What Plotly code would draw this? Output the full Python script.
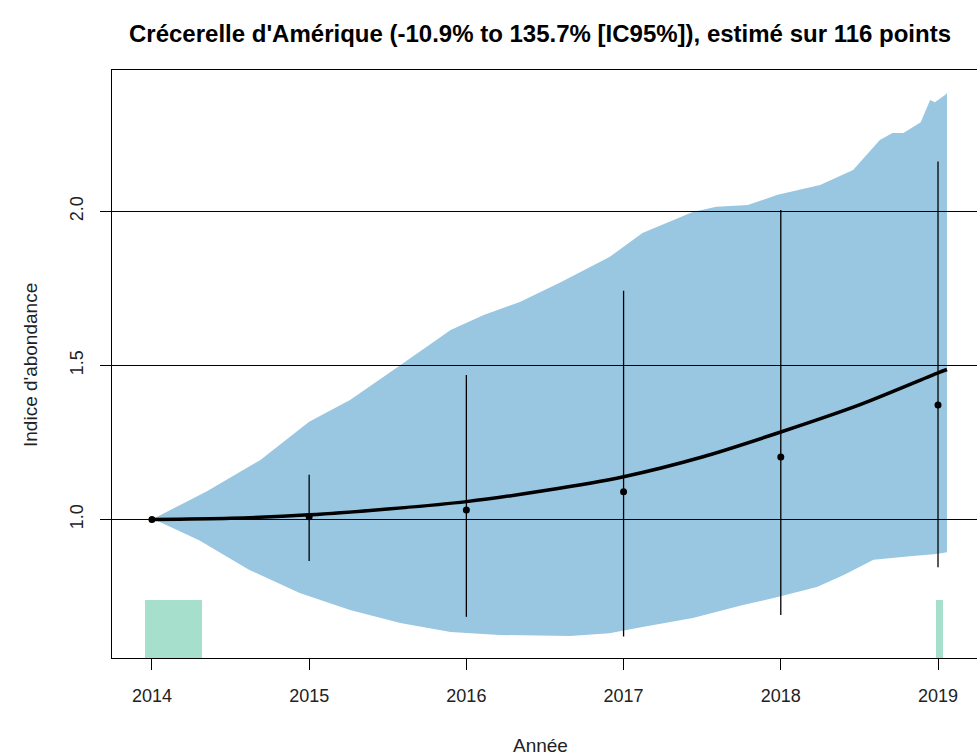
import plotly.graph_objects as go

# Confidence band (upper / lower envelopes)
band_upper_x = [2014.0, 2014.35, 2014.69, 2015.0, 2015.26, 2015.6, 2015.9, 2016.11, 2016.34,
                2016.6, 2016.91, 2017.12, 2017.44, 2017.59, 2017.79, 2017.98, 2018.25, 2018.46,
                2018.63, 2018.71, 2018.78, 2018.89, 2018.95, 2018.98, 2019.045, 2019.057]
band_upper_y = [1.0, 1.092, 1.193, 1.317, 1.388, 1.508, 1.615, 1.664, 1.706,
                1.770, 1.852, 1.930, 1.998, 2.015, 2.021, 2.054, 2.086, 2.135,
                2.232, 2.255, 2.255, 2.290, 2.362, 2.355, 2.378, 2.385]
band_lower_x = [2014.0, 2014.05, 2014.3, 2014.62, 2014.94, 2015.26, 2015.58, 2015.9, 2016.21,
                2016.66, 2016.91, 2017.12, 2017.44, 2017.76, 2017.98, 2018.23, 2018.4, 2018.59,
                2018.82, 2018.99, 2019.057]
band_lower_y = [1.0, 0.992, 0.933, 0.836, 0.761, 0.706, 0.664, 0.635, 0.625,
                0.622, 0.631, 0.651, 0.680, 0.722, 0.748, 0.781, 0.820, 0.869,
                0.881, 0.888, 0.894]

# Smoothed trend
trend_x = [2014.0, 2014.5, 2015.0, 2015.5, 2016.0, 2016.5, 2017.0, 2017.5, 2018.0, 2018.5, 2019.0, 2019.057]
trend_y = [1.0, 1.004, 1.015, 1.034, 1.058, 1.094, 1.139, 1.203, 1.284, 1.372, 1.476, 1.487]

# Yearly estimates with 95% intervals
years = [2014, 2015, 2016, 2017, 2018, 2019]
estimate = [1.0, 1.009, 1.031, 1.090, 1.203, 1.372]
ci_high = [1.0, 1.145, 1.469, 1.743, 2.005, 2.162]
ci_low = [1.0, 0.865, 0.684, 0.620, 0.690, 0.845]

# Sampling coverage blocks
cover_x0 = [2013.955, 2018.99]
cover_x1 = [2014.318, 2019.03]
cover_top = [0.739, 0.739]

gridlines_y = [1.0, 1.5, 2.0]
x_range = [2013.746, 2019.248]
y_range = [0.5503, 2.4594]

font = "Liberation Sans, Arial, sans-serif"
band_color = "#99c7e1"
cover_color = "#a6e0cd"

fig = go.Figure()

# coverage blocks as bars rising from the bottom of the axis
fig.add_trace(go.Bar(
    x=[(a + b) / 2 for a, b in zip(cover_x0, cover_x1)],
    width=[b - a for a, b in zip(cover_x0, cover_x1)],
    y=[t - y_range[0] for t in cover_top],
    base=y_range[0],
    marker=dict(color=cover_color, line=dict(width=0)),
    hoverinfo="skip", showlegend=False,
))

# confidence band polygon
fig.add_trace(go.Scatter(
    x=band_upper_x + band_lower_x[::-1],
    y=band_upper_y + band_lower_y[::-1],
    fill="toself", fillcolor=band_color, mode="none",
    hoverinfo="skip", showlegend=False,
))

# horizontal reference lines drawn over the band
for gy in gridlines_y:
    fig.add_trace(go.Scatter(
        x=x_range, y=[gy, gy], mode="lines",
        line=dict(color="black", width=1),
        hoverinfo="skip", showlegend=False, cliponaxis=True,
    ))

# yearly estimates with interval whiskers
fig.add_trace(go.Scatter(
    x=years, y=estimate, mode="markers",
    marker=dict(color="black", size=7),
    error_y=dict(type="data", symmetric=False,
                 array=[h - e for h, e in zip(ci_high, estimate)],
                 arrayminus=[e - l for e, l in zip(estimate, ci_low)],
                 color="black", thickness=1.3, width=0),
    showlegend=False,
))

# trend curve
fig.add_trace(go.Scatter(
    x=trend_x, y=trend_y, mode="lines",
    line=dict(color="black", width=3.5, shape="spline", smoothing=0.8),
    showlegend=False,
))

fig.update_layout(
    width=977, height=755,
    margin=dict(l=112, r=0, t=70, b=97),
    paper_bgcolor="white", plot_bgcolor="white",
    font=dict(family=font, size=18, color="#222222"),
    bargap=0,
    xaxis=dict(
        range=x_range, tickmode="array", tickvals=years,
        ticktext=[str(y) for y in years],
        showgrid=False, zeroline=False,
        showline=True, linecolor="black", linewidth=1.3, mirror=True,
        ticks="outside", ticklen=11, tickcolor="black", tickwidth=1.3,
        tickfont=dict(size=18, color="#222222"), ticklabelstandoff=10,
    ),
    yaxis=dict(
        range=y_range, tickmode="array", tickvals=gridlines_y,
        ticktext=["1.0", "1.5", "2.0"], tickangle=-90,
        showgrid=False, zeroline=False,
        showline=True, linecolor="black", linewidth=1.3,
        ticks="outside", ticklen=11, tickcolor="black", tickwidth=1.3,
        tickfont=dict(size=18, color="#222222"), ticklabelstandoff=10,
    ),
    annotations=[
        dict(text="<b>Crécerelle d'Amérique (-10.9% to 135.7% [IC95%]), estimé sur 116 points</b>",
             xref="paper", yref="paper", x=(540 - 112) / 865, y=1 + (70 - 33) / 588,
             xanchor="center", yanchor="middle", showarrow=False,
             font=dict(size=24, color="black", family=font)),
        dict(text="Année", xref="paper", yref="paper",
             x=(540 - 112) / 865, y=-(745 - 658) / 588,
             xanchor="center", yanchor="middle", showarrow=False,
             font=dict(size=19, color="#222222", family=font)),
        dict(text="Indice d'abondance", xref="paper", yref="paper",
             x=-(112 - 30) / 865, y=(658 - 365) / 588, textangle=-90,
             xanchor="center", yanchor="middle", showarrow=False,
             font=dict(size=19, color="#222222", family=font)),
    ],
)

fig.write_html("out.html")
